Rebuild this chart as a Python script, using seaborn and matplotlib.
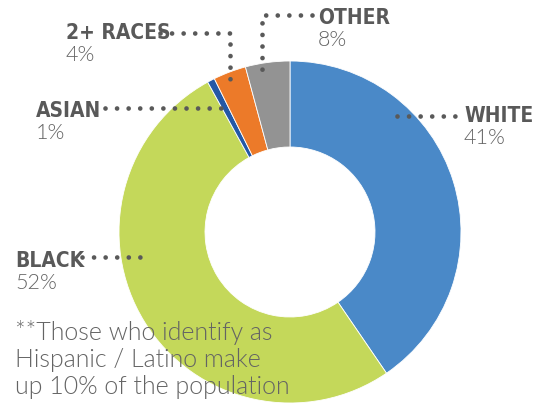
import matplotlib
matplotlib.use("Agg")
import matplotlib.pyplot as plt
import seaborn as sns

# slice sizes (% of population) and labels
groups = ["White", "Black", "Asian", "2+ Races", "Other"]
shares = [40.5, 51.6, 0.7, 3.1, 4.2]
label_names = ["WHITE", "BLACK", "ASIAN", "2+ RACES", "OTHER"]
label_pcts = ["41%", "52%", "1%", "4%", "8%"]
colors = sns.color_palette(["#4a89c8", "#c4d85a", "#2358a6", "#ec7a29", "#939393"])
note = "**Those who identify as\nHispanic / Latino make\nup 10% of the population"

sns.set_theme(style="white")
plt.rcParams["font.family"] = ["DejaVu Sans"]

W, H = 537, 403
fig = plt.figure(figsize=(W / 100, H / 100), dpi=100)
ax = fig.add_axes([0, 0, 1, 1])

def Y(y):
    return H - y

ax.pie(shares, colors=colors, startangle=90, counterclock=False,
       center=(290, Y(232)), radius=171,
       wedgeprops=dict(width=86, edgecolor="white", linewidth=0.6))
ax.set_xlim(0, W)
ax.set_ylim(0, H)
ax.set_aspect("equal")
ax.axis("off")

dark = "#595959"
grey = "#646464"
dots = dict(color=dark, linewidth=3.4, linestyle=(0, (0.001, 2.45)),
            dash_capstyle="round", solid_capstyle="round")

# leader lines
ax.plot([397, 458], [Y(116), Y(116)], **dots)                 # white
ax.plot([82, 140], [Y(257), Y(257)], **dots)                  # black
ax.plot([105, 223], [Y(108), Y(108)], **dots)                 # asian
ax.plot([160, 230, 230], [Y(33), Y(33), Y(79)], **dots)       # 2+ races
ax.plot([312, 262, 262], [Y(15), Y(15), Y(70)], **dots)       # other

# label positions (left x, top y of name)
label_pos = [(464, 106), (15, 251), (36, 101), (66, 23), (318, 8)]
for name, pct, (x, y) in zip(label_names, label_pcts, label_pos):
    ax.text(x, Y(y), name, fontsize=15, fontweight="bold", color=dark,
            fontstretch="condensed", ha="left", va="top")
    ax.text(x, Y(y + 22), pct, fontsize=15.5, color=grey, ha="left", va="top",
            family=["Lato", "DejaVu Sans"], fontweight=300)

ax.text(15, Y(320), note, fontsize=18, color=grey, ha="left", va="top",
        family=["Lato", "DejaVu Sans"], fontweight=300, linespacing=1.16)

fig.savefig("out.png", dpi=100)
